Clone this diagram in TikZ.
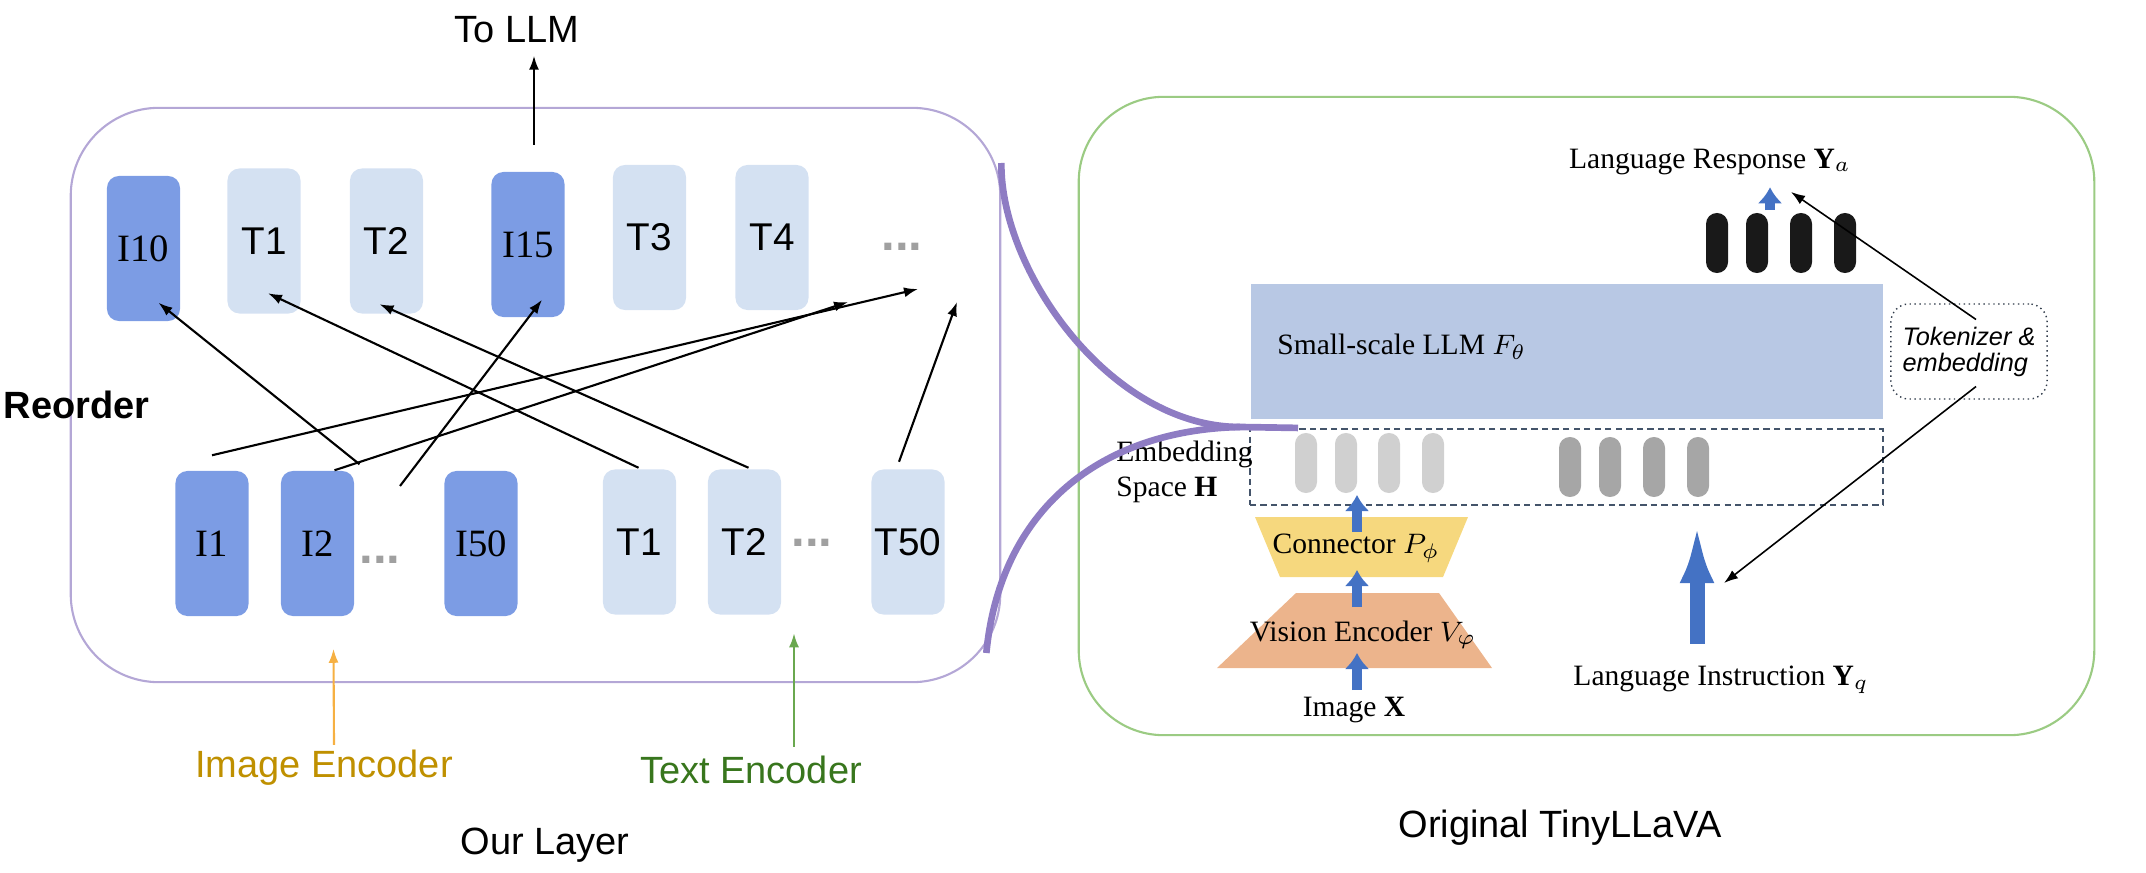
\documentclass[tikz,border=0pt]{standalone}
\usepackage{fontspec}
\setmainfont{Liberation Serif}
\setsansfont{Liberation Sans}
\usetikzlibrary{arrows.meta,calc,positioning}
\definecolor{imgblue}{HTML}{7C9CE4}
\definecolor{txtblue}{HTML}{D4E1F2}
\definecolor{layerpurple}{HTML}{B4A7D6}
\definecolor{linkpurple}{HTML}{8E7CC3}
\definecolor{tinygreen}{HTML}{9BCB83}
\definecolor{encorange}{HTML}{F6B042}
\definecolor{encgold}{HTML}{BF9000}
\definecolor{encgreen}{HTML}{38761D}
\definecolor{arrgreen}{HTML}{6AA84F}
\definecolor{llmblue}{HTML}{B8C8E4}
\definecolor{connyellow}{HTML}{F6D87E}
\definecolor{visorange}{HTML}{ECB48C}
\definecolor{flowblue}{HTML}{4472C4}
\definecolor{navy}{HTML}{44546A}
\definecolor{pilldark}{HTML}{A6A6A6}
\definecolor{pilllight}{HTML}{D0D0D0}
\definecolor{dotgray}{HTML}{A0A0A0}

\begin{document}
\begin{tikzpicture}[x=0.01cm,y=-0.01cm,>={Latex[length=1.4mm,width=1mm]},
tokI/.style={rectangle,rounded corners=0.12cm,fill=imgblue,minimum width=0.73cm,minimum height=1.45cm,inner sep=0pt,font=\rmfamily\fontsize{11}{11}\selectfont},
tokT/.style={tokI,fill=txtblue,font=\sffamily\fontsize{11}{11}\selectfont},
morestyle/.style={text=dotgray,inner sep=0pt,font=\sffamily\bfseries\fontsize{14}{14}\selectfont},
lab/.style={font=\sffamily\fontsize{10.8}{12}\selectfont},
ser/.style={font=\rmfamily\fontsize{8.4}{10}\selectfont},
pill/.style={rectangle,rounded corners=0.109cm,minimum width=0.22cm,minimum height=0.6cm,inner sep=0pt},
reorderline/.style={->,line width=0.6pt},
flow/.style={flowblue,line width=0.1cm,-{Latex[length=0.16cm,width=0.25cm]}},
bigflow/.style={flowblue,line width=0.15cm,-{Latex[length=0.6cm,width=0.34cm]}},
link/.style={linkpurple,line width=1.9pt}]

\useasboundingbox (0,0) rectangle (2146,873);

\node[draw=layerpurple,line width=0.6pt,rounded corners=0.88cm,minimum width=9.29cm,minimum height=5.74cm] (ourlayer) at (535.5,395) {};
\node[draw=tinygreen,line width=0.6pt,rounded corners=0.85cm,minimum width=10.15cm,minimum height=6.38cm] (tinyllava) at (1586.5,416) {};

\node[lab] (tollm) at (517,30) {To LLM};
\coordinate (llmout) at (534,145);
\draw[reorderline] (llmout) -- (llmout |- tollm.south);

\node[lab,font=\sffamily\bfseries\fontsize{10.8}{12}\selectfont,anchor=west,inner sep=0pt] (reorder) at (3,405) {Reorder};

\node[tokI] (i10) at (143.5,248.5) {I10};
\node[tokT] (t1) at (264,241) {T1};
\node[tokT] (t2) at (386.5,241) {T2};
\node[tokI] (i15) at (528,244.5) {I15};
\node[tokT] (t3) at (649.5,237.5) {T3};
\node[tokT] (t4) at (772,237.5) {T4};
\node[morestyle] (topdots) at (902,247) {...};

\node[tokI] (i1) at (212,543.5) {I1};
\node[tokI] (i2) at (317.5,543.5) {I2};
\node[morestyle] (idots) at (380,560) {...};
\node[tokI] (i50) at (481,543.5) {I50};
\node[tokT] (tb1) at (639.5,542) {T1};
\node[tokT] (tb2) at (744.5,542) {T2};
\node[morestyle] (tdots) at (812,543) {...};
\node[tokT] (t50) at (908,542) {T50};

\coordinate (moreA) at (918,289);
\coordinate (moreB) at (848,302);
\coordinate (moreC) at (957,302);

\draw[reorderline] ($(i2.north)+(42,-6)$) -- ($(i10.south)+(15,-19)$);
\draw[reorderline] ($(tb1.north)+(-1,-1)$) -- ($(t1.south)+(4,-21)$);
\draw[reorderline] ($(tb2.north)+(4,-1)$) -- ($(t2.south)+(-7,-10)$);
\draw[reorderline] ($(idots)+(20,-74)$) -- ($(i15.south)+(14,-18)$);
\draw[reorderline] ($(i1.north)+(0,-15)$) -- (moreA);
\draw[reorderline] ($(i2.north)+(17,0)$) -- (moreB);
\draw[reorderline] ($(t50.north)+(-9,-7)$) -- (moreC);

\node[lab,text=encgold] (imgenc) at (324,768) {Image Encoder};
\node[lab,text=encgreen] (txtenc) at (751,770) {Text Encoder};
\draw[->,encorange,line width=0.6pt] ($(imgenc.north)+(10,7)$) -- ($(i2.south)+(16,32)$);
\draw[->,arrgreen,line width=0.6pt] ($(txtenc.north)+(43,3)$) -- ($(tb2.south)+(49.5,18)$);
\node[lab] (ourlabel) at (545,845) {Our Layer};

\node[lab] (origlabel) at (1560,828) {Original TinyLLaVA};

\node[fill=llmblue,minimum width=6.32cm,minimum height=1.35cm,inner sep=0pt] (llm) at (1567,351.5) {};
\node[ser,anchor=west] (llmtext) at (1265,347) {Small-scale LLM $F_\theta$};

\node[draw=navy,dash pattern=on 1.8pt off 1.2pt,line width=0.6pt,minimum width=6.33cm,minimum height=0.76cm,inner sep=0pt] (embspace) at (1566.5,467) {};
\foreach \x [count=\i] in {1306,1346,1389,1433}
  \node[pill,fill=pilllight] (hv\i) at (\x,463) {};
\foreach \x [count=\i] in {1570,1610,1654,1698}
  \node[pill,fill=pilldark] (hq\i) at (\x,467) {};
\foreach \x [count=\i] in {1717,1757,1801,1845}
  \node[pill,fill=black!90] (ya\i) at (\x,243) {};
\node[ser,anchor=west,align=left] (embtext) at (1104,472) {Embedding\\Space $\mathbf{H}$};

\fill[connyellow] (1255,517) -- (1468,517) -- (1443,577) -- (1280,577) -- cycle;
\fill[visorange] (1296,593) -- (1439,593) -- (1492,668) -- (1217,668) -- cycle;
\node[ser] (conn) at (1356,548) {Connector $P_\phi$};
\node[ser] (venc) at (1363,635) {Vision Encoder $V_\varphi$};
\node[ser] (imgx) at (1354,710) {Image $\mathbf{X}$};

\coordinate (visbot) at (1357,668);
\coordinate (connbot) at (1357,577);
\coordinate (embbot) at (1357,505);
\draw[flow] ($(visbot)+(0,22)$) -- ($(visbot)+(0,-15)$);
\draw[flow] ($(connbot)+(0,30)$) -- ($(connbot)+(0,-7)$);
\draw[flow] ($(embbot)+(0,27)$) -- ($(embbot)+(0,-10)$);

\node[ser] (instr) at (1721,680) {Language Instruction $\mathbf{Y}_q$};
\coordinate (qin) at (1697,523);
\draw[bigflow,shorten <=0.1cm] (qin |- instr.north) -- (qin);

\node[ser] (resp) at (1710,162) {Language Response $\mathbf{Y}_a$};
\coordinate (aout) at (1770,210);
\draw[flow] (aout) -- (aout |- resp.south);

\node[draw=navy!70!black,densely dotted,rounded corners=0.18cm,minimum width=1.48cm,minimum height=0.95cm,align=left,font=\sffamily\itshape\fontsize{7.2}{7.4}\selectfont] (tok) at (1969,351.5) {Tokenizer \&\\embedding};
\coordinate (respin) at (1791,192);
\coordinate (instrin) at (1724,583);
\draw[->,line width=0.45pt] ($(tok.center)+(7,-32)$) -- (respin);
\draw[->,line width=0.45pt] ($(tok.center)+(7,35)$) -- (instrin);

\coordinate (linktop) at ($(ourlayer.east)+(0,-232)$);
\coordinate (linkbot) at ($(ourlayer.east)+(-15,258)$);
\coordinate (linktip) at (1240,427);
\draw[link] (linktop) .. controls (1000,270) and (1110,427) .. (linktip) -- (embspace.north west -| 1298,0);
\draw[link] (linktip) .. controls (1100,430) and (1000,510) .. (linkbot);

\end{tikzpicture}
\end{document}
